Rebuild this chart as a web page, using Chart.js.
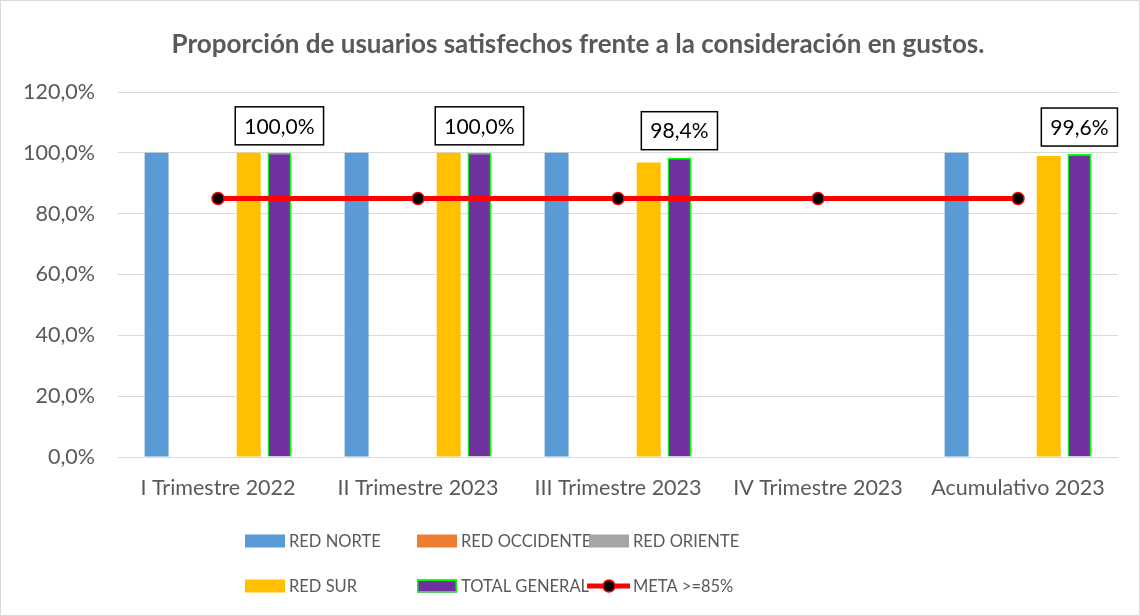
<!DOCTYPE html>
<html>
<head>
<meta charset="utf-8">
<script src="https://cdn.jsdelivr.net/npm/chart.js@4.4.1/dist/chart.umd.min.js"></script>
<style>
  body { margin: 0; background: #fff; }
  canvas { display: block; }
</style>
</head>
<body>
<canvas id="satisfaccion" width="1140" height="616"></canvas>
<script>
const titulo = 'Proporción de usuarios satisfechos frente a la consideración en gustos.';
const categorias = ['I Trimestre 2022', 'II Trimestre 2023', 'III Trimestre 2023', 'IV Trimestre 2023', 'Acumulativo 2023'];
const redNorte = [100, 100, 100, null, 100];
const redOccidente = [null, null, null, null, null];
const redOriente = [null, null, null, null, null];
const redSur = [100, 100, 96.8, null, 99.0];
const totalGeneral = [100, 100, 98.4, null, 99.6];
const meta = [85, 85, 85, 85, 85];
const yTicks = [0, 20, 40, 60, 80, 100, 120];

const FONT = 'Lato';
const GRIS = '#595959';

function pct(v) {
    return v.toFixed(1).replace('.', ',') + '%';
}

// fondo blanco, marco gris y título
const marco = {
    id: 'marco',
    beforeDraw(chart) {
        const c = chart.ctx;
        c.save();
        c.fillStyle = '#ffffff';
        c.fillRect(0, 0, chart.width, chart.height);
        c.strokeStyle = '#d9d9d9';
        c.lineWidth = 1;
        c.strokeRect(0.5, 0.5, chart.width - 1, chart.height - 1);
        c.font = 'bold 26px ' + FONT;
        c.fillStyle = GRIS;
        c.textAlign = 'center';
        c.textBaseline = 'middle';
        c.fillText(titulo, 578, 45);
        c.restore();
    }
};

// etiquetas con recuadro sobre las barras de TOTAL GENERAL
const etiquetas = {
    id: 'etiquetas',
    afterDatasetsDraw(chart) {
        const idx = chart.data.datasets.findIndex(d => d.label === 'TOTAL GENERAL');
        const metaTotal = chart.getDatasetMeta(idx);
        const c = chart.ctx;
        c.save();
        c.font = '21px ' + FONT;
        c.textAlign = 'center';
        c.textBaseline = 'middle';
        metaTotal.data.forEach((bar, i) => {
            const v = totalGeneral[i];
            if (v === null) return;
            const txt = pct(v);
            const w = c.measureText(txt).width + 18;
            const h = 38;
            const bottom = bar.y - 8;
            c.fillStyle = '#ffffff';
            c.fillRect(bar.x - w / 2, bottom - h, w, h);
            c.strokeStyle = '#000000';
            c.lineWidth = 1.5;
            c.strokeRect(bar.x - w / 2, bottom - h, w, h);
            c.fillStyle = '#000000';
            c.fillText(txt, bar.x, bottom - h / 2 + 1);
        });
        c.restore();
    }
};

// leyenda en dos filas de tres columnas
const leyenda = {
    id: 'leyenda',
    afterDraw(chart) {
        const cols = [245, 417, 589];
        const rows = [541, 586];
        const orden = ['RED NORTE', 'RED OCCIDENTE', 'RED ORIENTE', 'RED SUR', 'TOTAL GENERAL', 'META >=85%'];
        const c = chart.ctx;
        c.save();
        c.font = '16.5px ' + FONT;
        c.textBaseline = 'middle';
        orden.forEach((label, k) => {
            const ds = chart.data.datasets.find(d => d.label === label);
            const x = cols[k % 3];
            const y = rows[Math.floor(k / 3)];
            if (ds.type === 'line') {
                c.strokeStyle = ds.borderColor;
                c.lineWidth = ds.borderWidth;
                c.beginPath();
                c.moveTo(x - 2, y);
                c.lineTo(x + 41, y);
                c.stroke();
                c.beginPath();
                c.arc(x + 20, y, ds.pointRadius, 0, Math.PI * 2);
                c.fillStyle = ds.pointBackgroundColor;
                c.fill();
                c.lineWidth = ds.pointBorderWidth;
                c.strokeStyle = ds.pointBorderColor;
                c.stroke();
            } else {
                c.fillStyle = ds.backgroundColor;
                c.fillRect(x, y - 6.5, 40, 13);
                if (ds.borderWidth) {
                    c.strokeStyle = ds.borderColor;
                    c.lineWidth = ds.borderWidth;
                    c.strokeRect(x + 0.75, y - 5.75, 38.5, 11.5);
                }
            }
            c.fillStyle = GRIS;
            c.fillText(label, x + 44, y + 1);
        });
        c.restore();
    }
};

new Chart(document.getElementById('satisfaccion'), {
    type: 'bar',
    data: {
        labels: categorias,
        datasets: [
            { label: 'RED NORTE', data: redNorte, backgroundColor: '#5b9bd5' },
            { label: 'RED OCCIDENTE', data: redOccidente, backgroundColor: '#ed7d31' },
            { label: 'RED ORIENTE', data: redOriente, backgroundColor: '#a5a5a5' },
            { label: 'RED SUR', data: redSur, backgroundColor: '#ffc000' },
            { label: 'TOTAL GENERAL', data: totalGeneral, backgroundColor: '#7030a0',
              borderColor: '#00ff00', borderWidth: 1.5 },
            {
                label: 'META >=85%',
                type: 'line',
                data: meta,
                order: -1,
                borderColor: '#ff0000',
                borderWidth: 5,
                pointRadius: 6,
                pointBackgroundColor: '#000000',
                pointBorderColor: '#ff0000',
                pointBorderWidth: 1.5,
                fill: false
            }
        ]
    },
    options: {
        responsive: false,
        animation: false,
        categoryPercentage: 0.7675,
        barPercentage: 0.78,
        layout: { padding: { left: 0, top: 92, right: 22, bottom: 119 } },
        plugins: {
            legend: { display: false },
            title: { display: false },
            tooltip: { enabled: false }
        },
        scales: {
            x: {
                afterFit: s => { s.height = 40; },
                grid: { display: false, drawTicks: false },
                border: { display: false },
                ticks: { color: GRIS, font: { family: FONT, size: 21.5 }, padding: 18 }
            },
            y: {
                min: 0,
                max: 120,
                afterFit: s => { s.width = 118; },
                afterBuildTicks: s => { s.ticks = yTicks.map(v => ({ value: v })); },
                grid: { color: '#d9d9d9', lineWidth: 1, drawTicks: false },
                border: { display: false },
                ticks: { color: GRIS, font: { family: FONT, size: 21.5 }, padding: 23, callback: v => pct(v) }
            }
        }
    },
    plugins: [marco, etiquetas, leyenda]
});
</script>
</body>
</html>
